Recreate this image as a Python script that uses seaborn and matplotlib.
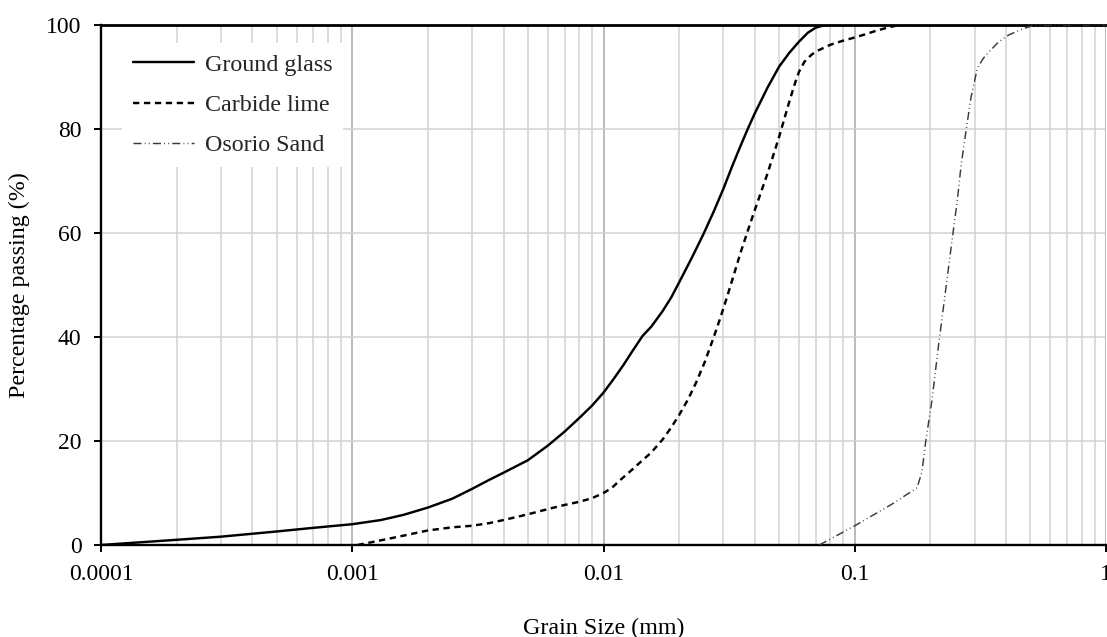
import numpy as np
import pandas as pd
import matplotlib
matplotlib.use("Agg")
import matplotlib.pyplot as plt
import seaborn as sns
from matplotlib.lines import Line2D
from matplotlib.ticker import LogLocator, FixedLocator, FuncFormatter, NullFormatter

# Grain size distributions (grain size in mm, percentage passing)
series_names = ["Ground glass", "Carbide lime", "Osorio Sand"]

glass_size = [0.0001, 0.0002, 0.0003, 0.0005, 0.0007, 0.001, 0.0013, 0.0016, 0.002,
              0.0025, 0.003, 0.0035, 0.004, 0.005, 0.006, 0.007, 0.008, 0.009, 0.01,
              0.011, 0.012, 0.013, 0.0143, 0.0155, 0.0172, 0.0186, 0.02, 0.0225,
              0.025, 0.0275, 0.03, 0.0325, 0.035, 0.0375, 0.04, 0.045, 0.05, 0.055,
              0.06, 0.065, 0.07, 0.075, 0.08, 1.0]
glass_pass = [0.0, 1.0, 1.6, 2.6, 3.3, 4.0, 4.8, 5.8, 7.2, 8.9, 10.8, 12.5, 13.9,
              16.3, 19.1, 21.8, 24.4, 26.8, 29.3, 32.0, 34.6, 37.2, 40.2, 42.0, 45.0,
              47.6, 50.5, 55.3, 59.8, 64.2, 68.5, 72.8, 76.6, 80.0, 83.0, 88.0, 92.0,
              94.7, 96.8, 98.5, 99.5, 99.9, 100.0, 100.0]

lime_size = [0.00105, 0.0013, 0.0016, 0.002, 0.0025, 0.003, 0.0035, 0.004, 0.005,
             0.006, 0.007, 0.008, 0.009, 0.01, 0.0108, 0.0116, 0.0128, 0.014, 0.0155,
             0.0172, 0.0186, 0.02, 0.0217, 0.0234, 0.0253, 0.0272, 0.029, 0.0307,
             0.0328, 0.035, 0.0375, 0.04, 0.045, 0.05, 0.055, 0.058, 0.06, 0.063,
             0.067, 0.07, 0.08, 0.09, 0.1, 0.11, 0.12, 0.135, 0.15, 1.0]
lime_pass = [0.0, 0.9, 1.8, 2.8, 3.4, 3.7, 4.2, 4.8, 5.9, 6.9, 7.7, 8.3, 9.0, 10.0,
             11.0, 12.4, 14.2, 15.9, 17.8, 20.3, 22.6, 25.0, 28.0, 31.3, 35.2, 39.4,
             43.3, 47.0, 51.5, 56.0, 60.4, 64.4, 71.5, 78.5, 85.4, 89.0, 91.0, 92.9,
             94.2, 94.9, 96.2, 97.0, 97.6, 98.2, 98.8, 99.5, 100.0, 100.0]

sand_size = [0.0723, 0.1, 0.14, 0.177, 0.185, 0.192, 0.203, 0.215, 0.23, 0.243, 0.256,
             0.265, 0.277, 0.29, 0.3076, 0.325, 0.343, 0.375, 0.411, 0.463, 0.52, 1.0]
sand_pass = [0.0, 3.7, 7.8, 11.0, 14.0, 20.2, 27.9, 38.0, 49.0, 58.0, 66.3, 73.0, 79.5,
             86.0, 91.7, 93.6, 94.9, 96.8, 98.1, 99.2, 100.0, 100.0]

df = pd.concat([
    pd.DataFrame({"size": glass_size, "passing": glass_pass, "material": series_names[0]}),
    pd.DataFrame({"size": lime_size, "passing": lime_pass, "material": series_names[1]}),
    pd.DataFrame({"size": sand_size, "passing": sand_pass, "material": series_names[2]}),
], ignore_index=True)

sns.set_theme(style="white")
plt.rcParams["font.family"] = ["Liberation Serif", "DejaVu Serif"]

fig = plt.figure(figsize=(11.07, 6.37), dpi=100)
ax = fig.add_axes([101 / 1107, 1 - 545 / 637, 1005 / 1107, 520 / 637])

colors = {"Ground glass": "#000000", "Carbide lime": "#000000", "Osorio Sand": "#3a3a3a"}
dash_styles = {"Ground glass": "", "Carbide lime": (2.6, 1.9),
               "Osorio Sand": (5.5, 2.2, 0.6, 2.2, 0.6, 2.2)}
widths = {"Ground glass": 1.75, "Carbide lime": 1.75, "Osorio Sand": 1.05}

sns.lineplot(data=df, x="size", y="passing", hue="material", style="material",
             palette=colors, dashes=dash_styles, sort=False, estimator=None,
             ax=ax, legend=False)

for line, name in zip(ax.get_lines(), series_names):
    line.set_linewidth(widths[name])
    line.set_zorder(3)

ax.set_xscale("log")
ax.set_xlim(0.0001, 1.0)
ax.set_ylim(0, 100)

# Grid: decades slightly darker, sub-decades light grey
ax.xaxis.set_major_locator(FixedLocator([0.0001, 0.001, 0.01, 0.1, 1.0]))
ax.xaxis.set_minor_locator(LogLocator(base=10, subs=np.arange(2, 10)))
ax.xaxis.set_major_formatter(FuncFormatter(lambda v, p: f"{v:g}" if v < 1 else "1"))
ax.xaxis.set_minor_formatter(NullFormatter())
ax.set_yticks([0, 20, 40, 60, 80, 100])

ax.grid(True, which="major", axis="x", color="#a8a8a8", linewidth=1.1)
ax.grid(True, which="minor", axis="x", color="#d2d2d2", linewidth=1.1)
ax.grid(True, which="major", axis="y", color="#d2d2d2", linewidth=1.1)
ax.set_axisbelow(True)

for side in ["left", "bottom", "top"]:
    ax.spines[side].set_visible(True)
    ax.spines[side].set_color("black")
    ax.spines[side].set_linewidth(1.7)
ax.spines["top"].set_linewidth(2.0)
ax.spines["right"].set_visible(False)

ax.tick_params(axis="both", which="major", direction="out", length=5, width=1.4,
               color="black", labelsize=17, labelcolor="black",
               bottom=True, left=True, top=False, right=False)
ax.tick_params(axis="x", which="major", pad=9)
ax.tick_params(axis="y", which="major", pad=9)
ax.tick_params(axis="x", which="minor", length=0)

ax.set_xlabel("Grain Size (mm)", fontsize=17.3, color="black", labelpad=23)
ax.set_ylabel("Percentage passing (%)", fontsize=17.3, color="black", labelpad=12)

handles = [
    Line2D([], [], color=colors[n], lw=widths[n],
           dashes=dash_styles[n] if dash_styles[n] else (None, None))
    for n in series_names
]
handles[0].set_linestyle("-")
leg = ax.legend(handles, series_names, loc="upper left",
                bbox_to_anchor=(0.021, 0.965), borderaxespad=0,
                frameon=True, fancybox=False, framealpha=1.0, facecolor="white",
                edgecolor="none", fontsize=17.3, handlelength=2.55,
                handletextpad=0.45, labelspacing=0.77, borderpad=0.45)
leg.set_zorder(5)

fig.savefig("out.png", dpi=100)
